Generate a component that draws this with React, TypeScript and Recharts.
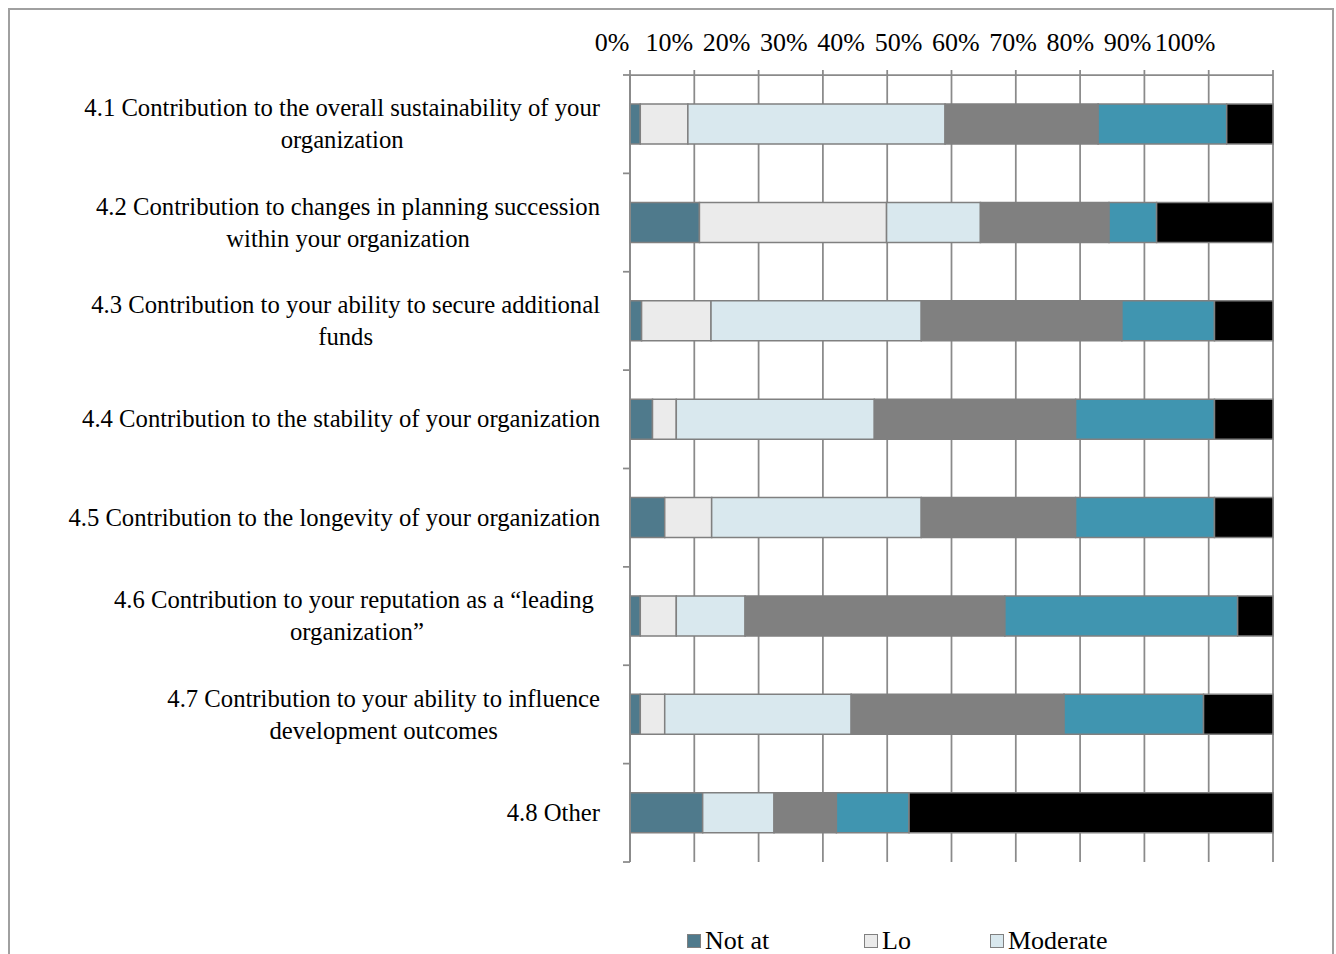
import React from 'react';
import { BarChart, Bar, XAxis, YAxis, CartesianGrid, Legend } from 'recharts';

const categories = [
  '4.1 Contribution to the overall sustainability of your\norganization',
  '4.2 Contribution to changes in planning succession\nwithin your organization',
  '4.3 Contribution to your ability to secure additional\nfunds',
  '4.4 Contribution to the stability of your organization',
  '4.5 Contribution to the longevity of your organization',
  '4.6 Contribution to your reputation as a \u201cleading \norganization\u201d',
  '4.7 Contribution to your ability to influence\ndevelopment outcomes',
  '4.8 Other',
];

const notAtAll = [1.6, 10.8, 1.8, 3.5, 5.4, 1.6, 1.6, 11.3];
const low = [7.4, 29.1, 10.8, 3.7, 7.3, 5.6, 3.8, 0];
const moderate = [40.0, 14.6, 32.7, 30.8, 32.6, 10.7, 29.0, 11.1];
const significant = [23.8, 20.0, 31.2, 31.3, 24.0, 40.4, 33.1, 9.7];
const high = [20.0, 7.4, 14.4, 21.6, 21.6, 36.2, 21.7, 11.3];
const other = [7.2, 18.1, 9.1, 9.1, 9.1, 5.5, 10.8, 56.6];

const xTicks = [0, 10, 20, 30, 40, 50, 60, 70, 80, 90, 100];
const legendLabels = ['Not at', 'Lo', 'Moderate'];

const seriesKeys = ['notAtAll', 'low', 'moderate', 'significant', 'high', 'other'];
const seriesFill = ['#4f7a8c', '#ebebeb', '#d9e8ee', '#808080', '#4095b0', '#000000'];

const data = categories.map((c, i) => ({
  category: c,
  notAtAll: notAtAll[i],
  low: low[i],
  moderate: moderate[i],
  significant: significant[i],
  high: high[i],
  other: other[i],
}));

const FONT = '"Liberation Serif", "Times New Roman", serif';
const CAT_SIZE = 24.7;
const TICK_SIZE = 26;

let ctx: CanvasRenderingContext2D | null = null;
function measure(text: string, size: number) {
  if (!ctx) {
    const c = document.createElement('canvas');
    ctx = c.getContext('2d');
  }
  if (!ctx) return text.length * size * 0.45;
  ctx.font = `${size}px "Liberation Serif"`;
  return ctx.measureText(text).width;
}

const BAND = 98.4;

const CategoryTick = (props: any) => {
  const { x, y, payload, index } = props;
  const lines: string[] = String(payload.value).split('\n');
  const maxW = Math.max(...lines.map((l) => measure(l, CAT_SIZE)));
  const right = x - 30;
  const cx = right - maxW / 2;
  const lineH = 32;
  const startY = y - ((lines.length - 1) * lineH) / 2;
  const half = BAND / 2;
  return (
    <g>
      <text textAnchor="middle" fontFamily={FONT} fontSize={CAT_SIZE} fill="#000">
        {lines.map((l, i) => (
          <tspan key={i} x={cx} y={startY + i * lineH} dy="0.33em">
            {l}
          </tspan>
        ))}
      </text>
      <line x1={x - 7} x2={x} y1={y - half} y2={y - half} stroke="#8a8a8a" strokeWidth={1.75} />
      {index === categories.length - 1 && (
        <line x1={x - 7} x2={x} y1={y + half} y2={y + half} stroke="#8a8a8a" strokeWidth={1.75} />
      )}
    </g>
  );
};

const PctTick = (props: any) => {
  const { x, y, payload } = props;
  const v = Number(payload.value);
  return (
    <text x={x - 18 - v * 0.7} y={y - 19} textAnchor="middle" fontFamily={FONT} fontSize={TICK_SIZE} fill="#000">
      {`${v}%`}
    </text>
  );
};

const LegendContent = () => {
  const lefts = [679, 856, 982];
  return (
    <div style={{ position: 'relative', width: 1320, height: 26 }}>
      {legendLabels.map((l, i) => (
        <div
          key={l}
          style={{
            position: 'absolute',
            left: lefts[i],
            top: 0,
            height: 26,
            display: 'flex',
            alignItems: 'center',
            fontFamily: FONT,
            fontSize: 26,
            lineHeight: '26px',
            color: '#000',
            whiteSpace: 'nowrap',
          }}
        >
          <span
            style={{
              display: 'inline-block',
              width: 14,
              height: 14,
              boxSizing: 'border-box',
              background: seriesFill[i],
              border: '1.5px solid #808080',
              marginRight: 4,
            }}
          />
          <span>{l}</span>
        </div>
      ))}
    </div>
  );
};

export default function App() {
  return (
    <div
      style={{
        position: 'fixed',
        left: 8,
        top: 8,
        width: 1328,
        height: 946,
        overflow: 'hidden',
        background: '#fff',
      }}
    >
      <div
        style={{
          position: 'absolute',
          left: 0,
          top: 0,
          width: 1326,
          height: 1100,
          border: '2px solid #a0a0a0',
          boxSizing: 'border-box',
        }}
      />
      <div style={{ position: 'absolute', left: 0, top: 0 }}>
        <BarChart
          width={1320}
          height={946}
          data={data}
          layout="vertical"
          margin={{ top: 37, right: 55, bottom: 66, left: 0 }}
          barSize={40}
        >
          <CartesianGrid horizontal={false} stroke="#8a8a8a" strokeWidth={1.75} />
          <XAxis
            type="number"
            orientation="top"
            domain={[0, 100]}
            ticks={xTicks}
            height={30}
            tickSize={5}
            tickMargin={0}
            tick={<PctTick />}
            axisLine={{ stroke: '#8a8a8a', strokeWidth: 1.75 }}
            tickLine={{ stroke: '#8a8a8a', strokeWidth: 1.75 }}
            interval={0}
          />
          <YAxis
            type="category"
            dataKey="category"
            width={622}
            tickSize={0}
            tickMargin={0}
            tickLine={false}
            tick={<CategoryTick />}
            axisLine={{ stroke: '#8a8a8a', strokeWidth: 1.75 }}
            interval={0}
          />
          {seriesKeys.map((k, i) => (
            <Bar
              key={k}
              dataKey={k}
              stackId="a"
              fill={seriesFill[i]}
              stroke="#808080"
              strokeWidth={1.5}
              isAnimationActive={false}
            />
          ))}
          <Legend
            content={<LegendContent />}
            wrapperStyle={{ position: 'absolute', left: 0, top: 920, width: 1320 }}
          />
        </BarChart>
      </div>
    </div>
  );
}
